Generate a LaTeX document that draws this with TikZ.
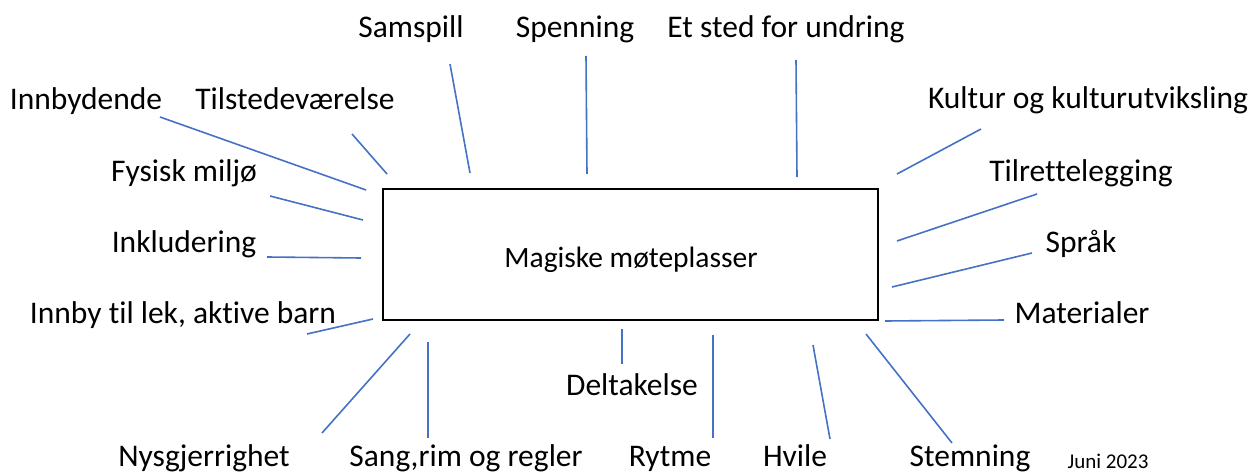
\documentclass[tikz,border=0pt]{standalone}
\usepackage{fontspec}
\setmainfont{Carlito}[Ligatures={NoCommon}]
\definecolor{linjeblaa}{HTML}{4472C4}

\begin{document}
\begin{tikzpicture}[x=1pt, y=-1pt,
    etikett/.style={anchor=base, inner sep=0pt, font=\fontsize{31.5}{36}\selectfont},
    strek/.style={linjeblaa, line width=1.6pt}]

  \useasboundingbox (0,0) rectangle (1253,473);

  % midtboks
  \node[draw, line width=2pt, minimum width=495pt, minimum height=131pt, inner sep=0pt]
    (boks) at (630.5,254.5) {};
  \node[anchor=base, font=\fontsize{29.5}{34}\selectfont] (tittel) at (631,267) {Magiske møteplasser};

  % etiketter oppe
  \node[etikett] (samspill) at (411,38) {Samspill};
  \node[etikett] (spenning) at (575,38) {Spenning};
  \node[etikett] (undring)  at (786,38) {Et sted for undring};

  % etiketter venstre
  \node[etikett] (innbydende) at (86,110)  {Innbydende};
  \node[etikett] (tilstede)   at (295,110) {Tilstedeværelse};
  \node[etikett] (fysisk)     at (184,182) {Fysisk miljø};
  \node[etikett] (inkludering) at (184,253) {Inkludering};
  \node[etikett] (innby)      at (183,323) {Innby til lek, aktive barn};

  % etiketter høyre
  \node[etikett] (kultur)     at (1088,109) {Kultur og kulturutviksling};
  \node[etikett] (tilrette)   at (1081,182) {Tilrettelegging};
  \node[etikett] (spraak)     at (1081,252) {Språk};
  \node[etikett] (materialer) at (1082,323) {Materialer};

  % etiketter nede
  \node[etikett] (deltakelse) at (632,395) {Deltakelse};
  \node[etikett] (nysgjerrig) at (204,466) {Nysgjerrighet};
  \node[etikett] (sang)       at (466,466) {Sang,rim og regler};
  \node[etikett] (rytme)      at (670,466) {Rytme};
  \node[etikett] (hvile)      at (795,466) {Hvile};
  \node[etikett] (stemning)   at (970,466) {Stemning};
  \node[anchor=base, inner sep=0pt, font=\fontsize{21}{24}\selectfont] (dato) at (1108,468) {Juni 2023};

  % endepunkter for strekene
  \coordinate (samspill-a) at (450,64);   \coordinate (samspill-b) at (470,173);
  \coordinate (spenning-a) at (586,56);   \coordinate (spenning-b) at (587,174);
  \coordinate (undring-a)  at (796,60);   \coordinate (undring-b)  at (797,177);
  \coordinate (innbydende-a) at (160,117); \coordinate (innbydende-b) at (366,190);
  \coordinate (tilstede-a) at (352,134);  \coordinate (tilstede-b) at (387,174);
  \coordinate (fysisk-a)   at (270,196);  \coordinate (fysisk-b)   at (363,220);
  \coordinate (inkludering-a) at (267,257); \coordinate (inkludering-b) at (361,258);
  \coordinate (innby-a)    at (307,334);  \coordinate (innby-b)    at (373,319);
  \coordinate (kultur-a)   at (981,129);  \coordinate (kultur-b)   at (897,174);
  \coordinate (tilrette-a) at (1037,194); \coordinate (tilrette-b) at (897,241);
  \coordinate (spraak-a)   at (1032,253); \coordinate (spraak-b)   at (892,287);
  \coordinate (materialer-a) at (1004,320); \coordinate (materialer-b) at (885,321);
  \coordinate (deltakelse-a) at (622,364); \coordinate (deltakelse-b) at (622,329);
  \coordinate (nysgjerrig-a) at (322,433); \coordinate (nysgjerrig-b) at (410,334);
  \coordinate (sang-a)     at (428,438);  \coordinate (sang-b)     at (428,342);
  \coordinate (rytme-a)    at (713,438);  \coordinate (rytme-b)    at (713,335);
  \coordinate (hvile-a)    at (830,439);  \coordinate (hvile-b)    at (813,345);
  \coordinate (stemning-a) at (952,443);  \coordinate (stemning-b) at (866,334);

  % streker
  \foreach \n in {samspill, spenning, undring, innbydende, tilstede, fysisk, inkludering,
                  innby, kultur, tilrette, spraak, materialer, deltakelse, nysgjerrig,
                  sang, rytme, hvile, stemning}
    \draw[strek] (\n-a) -- (\n-b);

\end{tikzpicture}
\end{document}
